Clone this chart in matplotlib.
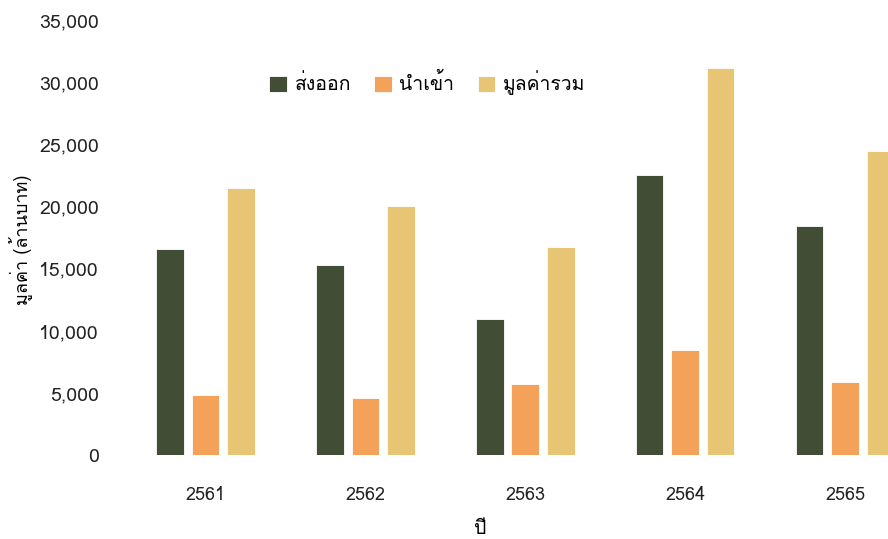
import matplotlib
matplotlib.use("Agg")
import numpy as np
import matplotlib.pyplot as plt
from matplotlib.ticker import FuncFormatter

plt.rcParams['font.family'] = ['Loma', 'DejaVu Sans']

years = ['2561', '2562', '2563', '2564', '2565']
exports = [16600, 15300, 11000, 22500, 18450]
imports = [4850, 4620, 5720, 8500, 5930]
totals = [21500, 20050, 16780, 31170, 24480]

series = [
    ('ส่งออก', exports, '#414d35'),
    ('นำเข้า', imports, '#f4a259'),
    ('มูลค่ารวม', totals, '#e8c574'),
]

fig = plt.figure(figsize=(8.88, 5.39), dpi=100)
ax = fig.add_axes([0.13, 0.155, 0.923, 0.808])

x = np.arange(len(years))
width = 0.172
step = 0.222
for i, (name, vals, color) in enumerate(series):
    ax.bar(x + (i - 1) * step, vals, width, color=color, label=name,
           edgecolor='white', linewidth=0.6)

ax.set_xlim(-0.5625, 4.5625)
ax.set_ylim(0, 35000)
ax.set_yticks(range(0, 35001, 5000))
ax.yaxis.set_major_formatter(FuncFormatter(lambda v, p: f'{int(v):,}'))
ax.set_xticks(x)
ax.set_xticklabels(years)
ax.tick_params(axis='both', length=0, colors='#222222')
ax.tick_params(axis='x', pad=22, labelsize=13)
ax.tick_params(axis='y', pad=12, labelsize=14)
for s in ax.spines.values():
    s.set_visible(False)

ax.set_xlabel('ปี', fontsize=14)
ax.set_ylabel('มูลค่า (ล้านบาท)', fontsize=13)
ax.xaxis.set_label_coords((480 - 115) / 820, -0.17)
ax.xaxis.label.set_verticalalignment('center')
ax.yaxis.set_label_coords(-(115 - 20) / 820, (455.5 - 240) / 435.5)
ax.yaxis.label.set_verticalalignment('center')

ax.legend(loc='center', bbox_to_anchor=((427 - 115) / 820, (455.5 - 83) / 435.5),
          ncol=3, frameon=False, fontsize=14, handlelength=0.9, handleheight=0.9,
          columnspacing=1.2, handletextpad=0.4)

fig.savefig('out.png', dpi=100)
